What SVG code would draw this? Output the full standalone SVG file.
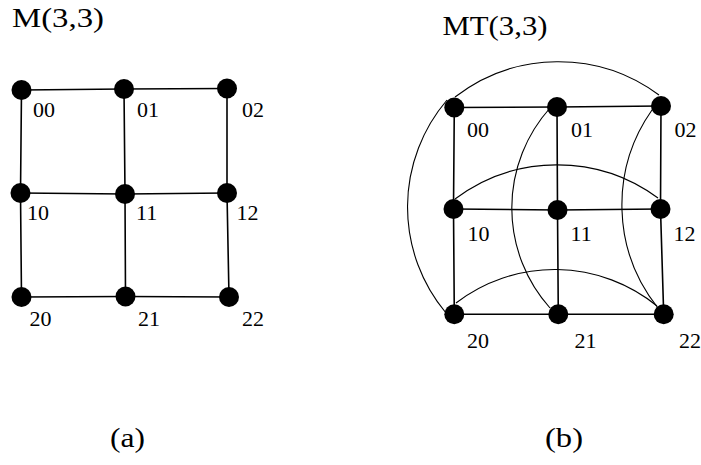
<svg xmlns="http://www.w3.org/2000/svg" width="701" height="465" viewBox="0 0 701 465">
<style>
text{font-family:"Times New Roman","Liberation Serif",Times,serif;fill:#000}
.lbl{font-size:22px}
.ttl{font-size:28px}
.e{stroke:#000;stroke-width:1.6;fill:none}
.a{stroke:#000;stroke-width:1.1;fill:none}
.n{fill:#000}
</style>
<rect width="701" height="465" fill="#fff"/>
<text class="ttl" x="12" y="27" textLength="92" lengthAdjust="spacingAndGlyphs">M(3,3)</text>
<text class="ttl" x="442.5" y="35" textLength="105" lengthAdjust="spacingAndGlyphs">MT(3,3)</text>
<text class="ttl" x="110" y="447" textLength="35" lengthAdjust="spacingAndGlyphs">(a)</text>
<text class="ttl" x="545" y="447" textLength="38" lengthAdjust="spacingAndGlyphs">(b)</text>
<g id="connectors">
<g id="mesh-a">
<polyline class="e" points="21.5,90 124,89 227,88.5"/>
<polyline class="e" points="20.5,193 125,194 227,193"/>
<polyline class="e" points="21.5,297 125.5,296.5 229,297"/>
<polyline class="e" points="21.5,90 20.5,193 21.5,297"/>
<polyline class="e" points="124,89 125,194 125.5,296.5"/>
<polyline class="e" points="227,88.5 227,193 229,297"/>
</g>
<g id="mesh-b">
<polyline class="e" points="454.3,107.5 557,107 661,106"/>
<polyline class="e" points="453.5,209 557.5,210 660.5,209"/>
<polyline class="e" points="454.3,314.3 558.3,314.3 663.7,314.3"/>
<polyline class="e" points="454.3,107.5 453.5,209 454.3,314.3"/>
<polyline class="e" points="557,107 557.5,210 558.3,314.3"/>
<polyline class="e" points="661,106 660.5,209 663.7,314.3"/>
</g>
<g id="wrap-b">
<path class="a" d="M455,97 A169,169 0 0 1 659,95"/>
<path class="a" d="M447,100 A165,165 0 0 0 446,313"/>
<path class="a" d="M455,199 A170,170 0 0 1 658,198"/>
<path class="a" d="M456,303 A162,162 0 0 1 657,306"/>
<path class="a" d="M550,108 A150,150 0 0 0 550,308"/>
<path class="a" d="M652,110 A165,165 0 0 0 658,308"/>
</g>
</g>
<g id="a00"><circle class="n" cx="21.5" cy="90" r="10"/><text class="lbl" x="33" y="117">00</text></g>
<g id="a01"><circle class="n" cx="124" cy="89" r="10"/><text class="lbl" x="137" y="117">01</text></g>
<g id="a02"><circle class="n" cx="227" cy="88.5" r="10"/><text class="lbl" x="242" y="117">02</text></g>
<g id="a10"><circle class="n" cx="20.5" cy="193" r="10"/><text class="lbl" x="27" y="220">10</text></g>
<g id="a11"><circle class="n" cx="125" cy="194" r="10"/><text class="lbl" x="136" y="220">11</text></g>
<g id="a12"><circle class="n" cx="227" cy="193" r="10"/><text class="lbl" x="236.5" y="220">12</text></g>
<g id="a20"><circle class="n" cx="21.5" cy="297" r="10"/><text class="lbl" x="29.5" y="326">20</text></g>
<g id="a21"><circle class="n" cx="125.5" cy="296.5" r="10"/><text class="lbl" x="138" y="326">21</text></g>
<g id="a22"><circle class="n" cx="229" cy="297" r="10"/><text class="lbl" x="242" y="326">22</text></g>
<g id="b00"><circle class="n" cx="454.3" cy="107.5" r="10"/><text class="lbl" x="467" y="137">00</text></g>
<g id="b01"><circle class="n" cx="557" cy="107" r="10"/><text class="lbl" x="571" y="137">01</text></g>
<g id="b02"><circle class="n" cx="661" cy="106" r="10"/><text class="lbl" x="674.5" y="137">02</text></g>
<g id="b10"><circle class="n" cx="453.5" cy="209" r="10"/><text class="lbl" x="467.5" y="241">10</text></g>
<g id="b11"><circle class="n" cx="557.5" cy="210" r="10"/><text class="lbl" x="570.5" y="241">11</text></g>
<g id="b12"><circle class="n" cx="660.5" cy="209" r="10"/><text class="lbl" x="673.5" y="241">12</text></g>
<g id="b20"><circle class="n" cx="454.3" cy="314.3" r="10"/><text class="lbl" x="467" y="348">20</text></g>
<g id="b21"><circle class="n" cx="558.3" cy="314.3" r="10"/><text class="lbl" x="574.5" y="348">21</text></g>
<g id="b22"><circle class="n" cx="663.7" cy="314.3" r="10"/><text class="lbl" x="679" y="348">22</text></g>
</svg>
